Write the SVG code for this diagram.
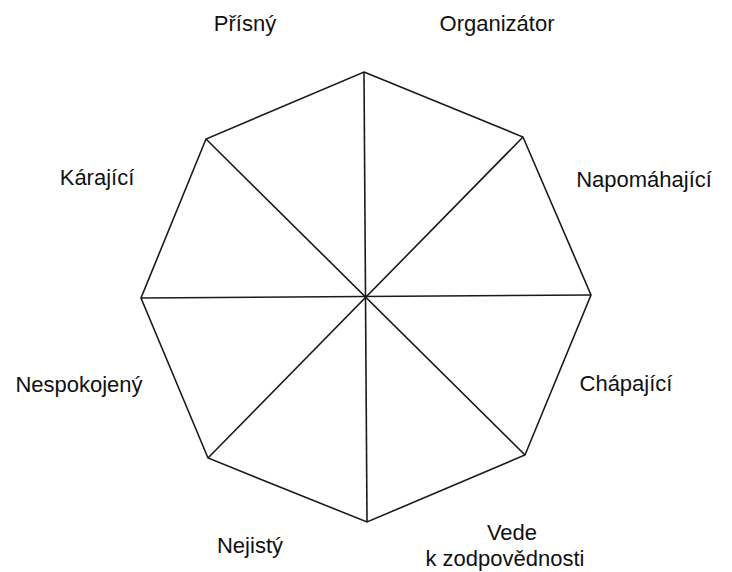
<svg xmlns="http://www.w3.org/2000/svg" width="732" height="572" viewBox="0 0 732 572">
<style>
.edge{fill:none;stroke:#1a1a1a;stroke-width:1.6;stroke-linejoin:miter}
.lbl{font-family:"Liberation Sans",Arial,sans-serif;font-size:22px;fill:#111;text-anchor:middle}
</style>
<rect width="732" height="572" fill="#fff"/>
<g id="connectors">
<polygon class="edge" points="364,72 523,137 591,295 525,455 367,522 208,458 141,298 206,139"/>
<line class="edge" x1="364" y1="72" x2="367" y2="522"/>
<line class="edge" x1="523" y1="137" x2="208" y2="458"/>
<line class="edge" x1="591" y1="295" x2="141" y2="298"/>
<line class="edge" x1="525" y1="455" x2="206" y2="139"/>
</g>
<g id="n-prisny"><text class="lbl" x="245" y="31">Přísný</text></g>
<g id="n-organizator"><text class="lbl" x="497" y="31">Organizátor</text></g>
<g id="n-karajici"><text class="lbl" x="97" y="185">Kárající</text></g>
<g id="n-napomahajici"><text class="lbl" x="644" y="187">Napomáhající</text></g>
<g id="n-nespokojeny"><text class="lbl" x="79" y="392">Nespokojený</text></g>
<g id="n-chapajici"><text class="lbl" x="626" y="391">Chápající</text></g>
<g id="n-nejisty"><text class="lbl" x="250" y="553">Nejistý</text></g>
<g id="n-vede"><text class="lbl" x="512" y="540">Vede</text><text class="lbl" x="505" y="566">k zodpovědnosti</text></g>
</svg>
